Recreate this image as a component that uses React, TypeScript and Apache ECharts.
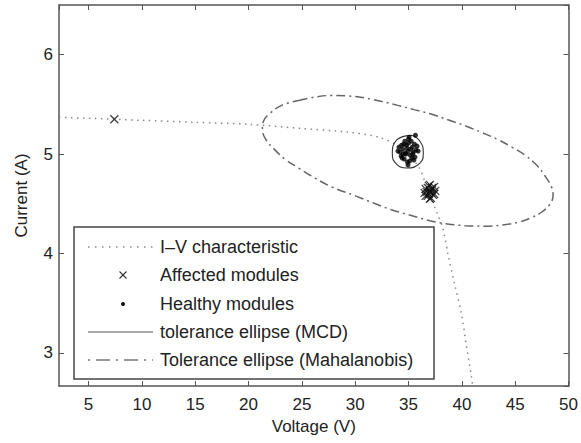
import React, { useEffect, useRef } from "react";
import * as echarts from "echarts";

// Axis ranges
const X_MIN = 2.23;
const X_MAX = 50;
const Y_MIN = 2.667;
const Y_MAX = 6.5;

// I–V characteristic
const ivVoltage = [2.23, 5, 10, 15, 20, 24.7, 29.4, 32.2, 34.0, 35.9, 36.8, 37.7, 38.2, 38.7, 39.3, 39.95, 40.4, 40.9, 41.0];
const ivCurrent = [5.37, 5.36, 5.34, 5.32, 5.30, 5.26, 5.22, 5.17, 5.08, 4.88, 4.64, 4.40, 4.26, 3.99, 3.70, 3.40, 3.09, 2.76, 2.667];

// Affected modules (x markers)
const affectedVoltage = [7.42, 37.0, 36.6, 37.4, 36.8, 37.2, 36.5, 37.5, 36.9, 37.1, 36.7, 37.3, 37.0, 36.8, 37.2, 36.6, 37.4, 37.0, 36.9, 37.1, 37.0];
const affectedCurrent = [5.35, 4.62, 4.65, 4.60, 4.58, 4.66, 4.61, 4.63, 4.68, 4.56, 4.62, 4.59, 4.55, 4.66, 4.64, 4.58, 4.67, 4.69, 4.60, 4.61, 4.63];

// Healthy modules (dots)
const healthyVoltage = [34.95, 35.2, 34.7, 35.45, 34.45, 35.7, 34.2, 35.0, 34.8, 35.3, 34.6, 35.55, 34.35, 35.9, 34.0, 35.1, 34.9, 35.25, 34.65, 35.6, 34.3, 35.8, 34.1, 35.0, 34.75, 35.35, 34.55, 35.15, 34.85, 35.5, 34.4, 35.05, 34.95, 35.4, 34.5, 35.65];
const healthyCurrent = [5.03, 5.05, 5.01, 5.02, 5.05, 5.04, 5.02, 5.11, 5.09, 4.96, 4.95, 5.10, 5.09, 5.03, 5.03, 4.93, 4.92, 5.13, 5.13, 4.97, 4.98, 5.08, 5.07, 5.15, 5.00, 5.07, 5.10, 4.99, 5.06, 4.94, 4.96, 5.17, 4.89, 5.00, 5.00, 5.19];

// Tolerance ellipse (MCD), outline points
const mcdVoltage = [35.28, 36.07, 36.38, 36.07, 34.82, 33.88, 33.48, 33.88, 35.28];
const mcdCurrent = [5.19, 5.13, 5.01, 4.91, 4.86, 4.90, 5.00, 5.14, 5.19];

// Tolerance ellipse (Mahalanobis), outline points
const mahalVoltage = [24.7, 26.3, 27.8, 29.4, 30.9, 32.5, 34.0, 35.6, 37.2, 38.7, 40.3, 41.8, 43.4, 44.7, 45.9, 47.0, 47.8, 48.4, 48.55, 48.2, 47.4, 46.5, 45.5, 44.0, 42.4, 40.3, 38.5, 37.0, 35.0, 33.4, 31.9, 30.0, 27.8, 26.2, 24.7, 23.4, 22.4, 21.6, 21.3, 21.4, 22.0, 23.1, 24.7];
const mahalCurrent = [5.54, 5.575, 5.59, 5.585, 5.565, 5.53, 5.49, 5.445, 5.40, 5.345, 5.285, 5.22, 5.145, 5.07, 4.99, 4.89, 4.78, 4.67, 4.58, 4.49, 4.41, 4.36, 4.32, 4.29, 4.275, 4.28, 4.30, 4.33, 4.39, 4.44, 4.50, 4.58, 4.67, 4.76, 4.86, 4.95, 5.05, 5.15, 5.25, 5.33, 5.41, 5.49, 5.54];

const legendLabels = [
  "I\u2013V characteristic",
  "Affected modules",
  "Healthy modules",
  "tolerance ellipse (MCD)",
  "Tolerance ellipse (Mahalanobis)",
];

const zip = (a: number[], b: number[]) => a.map((v, i) => [v, b[i]]);

const FONT = "'Liberation Sans', Arial, Helvetica, sans-serif";
const AXIS_COLOR = "#555";
const TEXT_COLOR = "#222";

export default function App() {
  const ref = useRef<HTMLDivElement>(null);

  useEffect(() => {
    if (!ref.current) return;
    const chart = echarts.init(ref.current, null, { renderer: "svg" });

    const xBase: any = {
      type: "value",
      min: X_MIN,
      max: X_MAX,
      splitNumber: 10,
      minInterval: 5,
      maxInterval: 5,
      axisLine: { show: true, onZero: false, lineStyle: { color: AXIS_COLOR, width: 1.5 } },
      axisTick: { show: true, inside: true, length: 5, lineStyle: { color: AXIS_COLOR, width: 1 } },
      splitLine: { show: false },
    };
    const yBase: any = {
      type: "value",
      min: Y_MIN,
      max: Y_MAX,
      splitNumber: 4,
      minInterval: 1,
      maxInterval: 1,
      axisLine: { show: true, onZero: false, lineStyle: { color: AXIS_COLOR, width: 1.5 } },
      axisTick: { show: true, inside: true, length: 5, lineStyle: { color: AXIS_COLOR, width: 1 } },
      splitLine: { show: false },
    };

    const rowY = [247, 275, 304, 332, 360];
    const iconX1 = 88;
    const iconX2 = 153;
    const iconCx = 123;

    const graphic: any[] = [
      {
        type: "rect",
        z: 100,
        shape: { x: 74, y: 227, width: 360, height: 152 },
        style: { fill: "#fff", stroke: "#444", lineWidth: 1.5 },
      },
      {
        type: "line",
        z: 101,
        shape: { x1: iconX1, y1: rowY[0], x2: iconX2, y2: rowY[0] },
        style: { stroke: "#888", lineWidth: 1.5, lineDash: [1.5, 5.5] },
      },
      {
        type: "line",
        z: 101,
        shape: { x1: iconCx - 3.5, y1: rowY[1] - 3.5, x2: iconCx + 3.5, y2: rowY[1] + 3.5 },
        style: { stroke: "#333", lineWidth: 1.1 },
      },
      {
        type: "line",
        z: 101,
        shape: { x1: iconCx - 3.5, y1: rowY[1] + 3.5, x2: iconCx + 3.5, y2: rowY[1] - 3.5 },
        style: { stroke: "#333", lineWidth: 1.1 },
      },
      {
        type: "circle",
        z: 101,
        shape: { cx: iconCx, cy: rowY[2], r: 2 },
        style: { fill: "#111" },
      },
      {
        type: "line",
        z: 101,
        shape: { x1: iconX1, y1: rowY[3], x2: iconX2, y2: rowY[3] },
        style: { stroke: "#555", lineWidth: 1.2 },
      },
      {
        type: "line",
        z: 101,
        shape: { x1: iconX1, y1: rowY[4], x2: iconX2, y2: rowY[4] },
        style: { stroke: "#777", lineWidth: 1.5, lineDash: [2, 6, 14, 6] },
      },
      ...legendLabels.map((t, i) => ({
        type: "text",
        z: 101,
        x: 160,
        y: rowY[i],
        style: {
          text: t,
          fontSize: 18,
          fontFamily: FONT,
          fill: TEXT_COLOR,
          verticalAlign: "middle",
          align: "left",
        },
      })),
    ];

    chart.setOption({
      animation: false,
      textStyle: { fontFamily: FONT },
      grid: { left: 59, right: 10, top: 5, bottom: 57, containLabel: false },
      xAxis: [
        {
          ...xBase,
          position: "bottom",
          name: "Voltage (V)",
          nameLocation: "middle",
          nameGap: 31,
          nameTextStyle: { fontSize: 17, color: TEXT_COLOR, fontFamily: FONT },
          axisLabel: {
            show: true,
            fontSize: 17,
            color: TEXT_COLOR,
            fontFamily: FONT,
            margin: 10,
            showMinLabel: false,
          },
        },
        {
          ...xBase,
          position: "top",
          axisLabel: { show: false },
        },
      ],
      yAxis: [
        {
          ...yBase,
          position: "left",
          name: "Current (A)",
          nameLocation: "middle",
          nameGap: 29,
          nameTextStyle: { fontSize: 17, color: TEXT_COLOR, fontFamily: FONT },
          axisLabel: {
            show: true,
            fontSize: 17,
            color: TEXT_COLOR,
            fontFamily: FONT,
            margin: 6,
            showMinLabel: false,
            showMaxLabel: false,
          },
        },
        {
          ...yBase,
          position: "right",
          axisLabel: { show: false },
        },
      ],
      series: [
        {
          name: legendLabels[0],
          type: "line",
          xAxisIndex: 0,
          yAxisIndex: 0,
          data: zip(ivVoltage, ivCurrent),
          smooth: 0.3,
          symbol: "none",
          silent: true,
          lineStyle: { color: "#888", width: 1.5, type: [1.5, 4.5] },
          z: 2,
        },
        {
          name: legendLabels[4],
          type: "line",
          xAxisIndex: 0,
          yAxisIndex: 0,
          data: zip(mahalVoltage, mahalCurrent),
          smooth: 0.4,
          symbol: "none",
          silent: true,
          lineStyle: { color: "#666", width: 1.5, type: [9, 4, 2, 4] },
          z: 3,
        },
        {
          name: legendLabels[3],
          type: "line",
          xAxisIndex: 0,
          yAxisIndex: 0,
          data: zip(mcdVoltage, mcdCurrent),
          smooth: true,
          symbol: "none",
          silent: true,
          lineStyle: { color: "#333", width: 1.1 },
          z: 4,
        },
        {
          name: legendLabels[2],
          type: "scatter",
          xAxisIndex: 0,
          yAxisIndex: 0,
          data: zip(healthyVoltage, healthyCurrent),
          symbol: "circle",
          symbolSize: 5,
          silent: true,
          itemStyle: { color: "#000" },
          z: 5,
        },
        {
          name: legendLabels[1],
          type: "scatter",
          xAxisIndex: 0,
          yAxisIndex: 0,
          data: zip(affectedVoltage, affectedCurrent),
          symbol: "path://M0,0L10,10M10,0L0,10",
          symbolSize: 8,
          silent: true,
          itemStyle: { color: "transparent", borderColor: "#111", borderWidth: 1.3 },
          z: 6,
        },
      ],
      graphic,
    });

    return () => chart.dispose();
  }, []);

  return (
    <div
      ref={ref}
      style={{ position: "fixed", left: 0, top: 0, width: 581, height: 443, background: "#fff" }}
    />
  );
}
